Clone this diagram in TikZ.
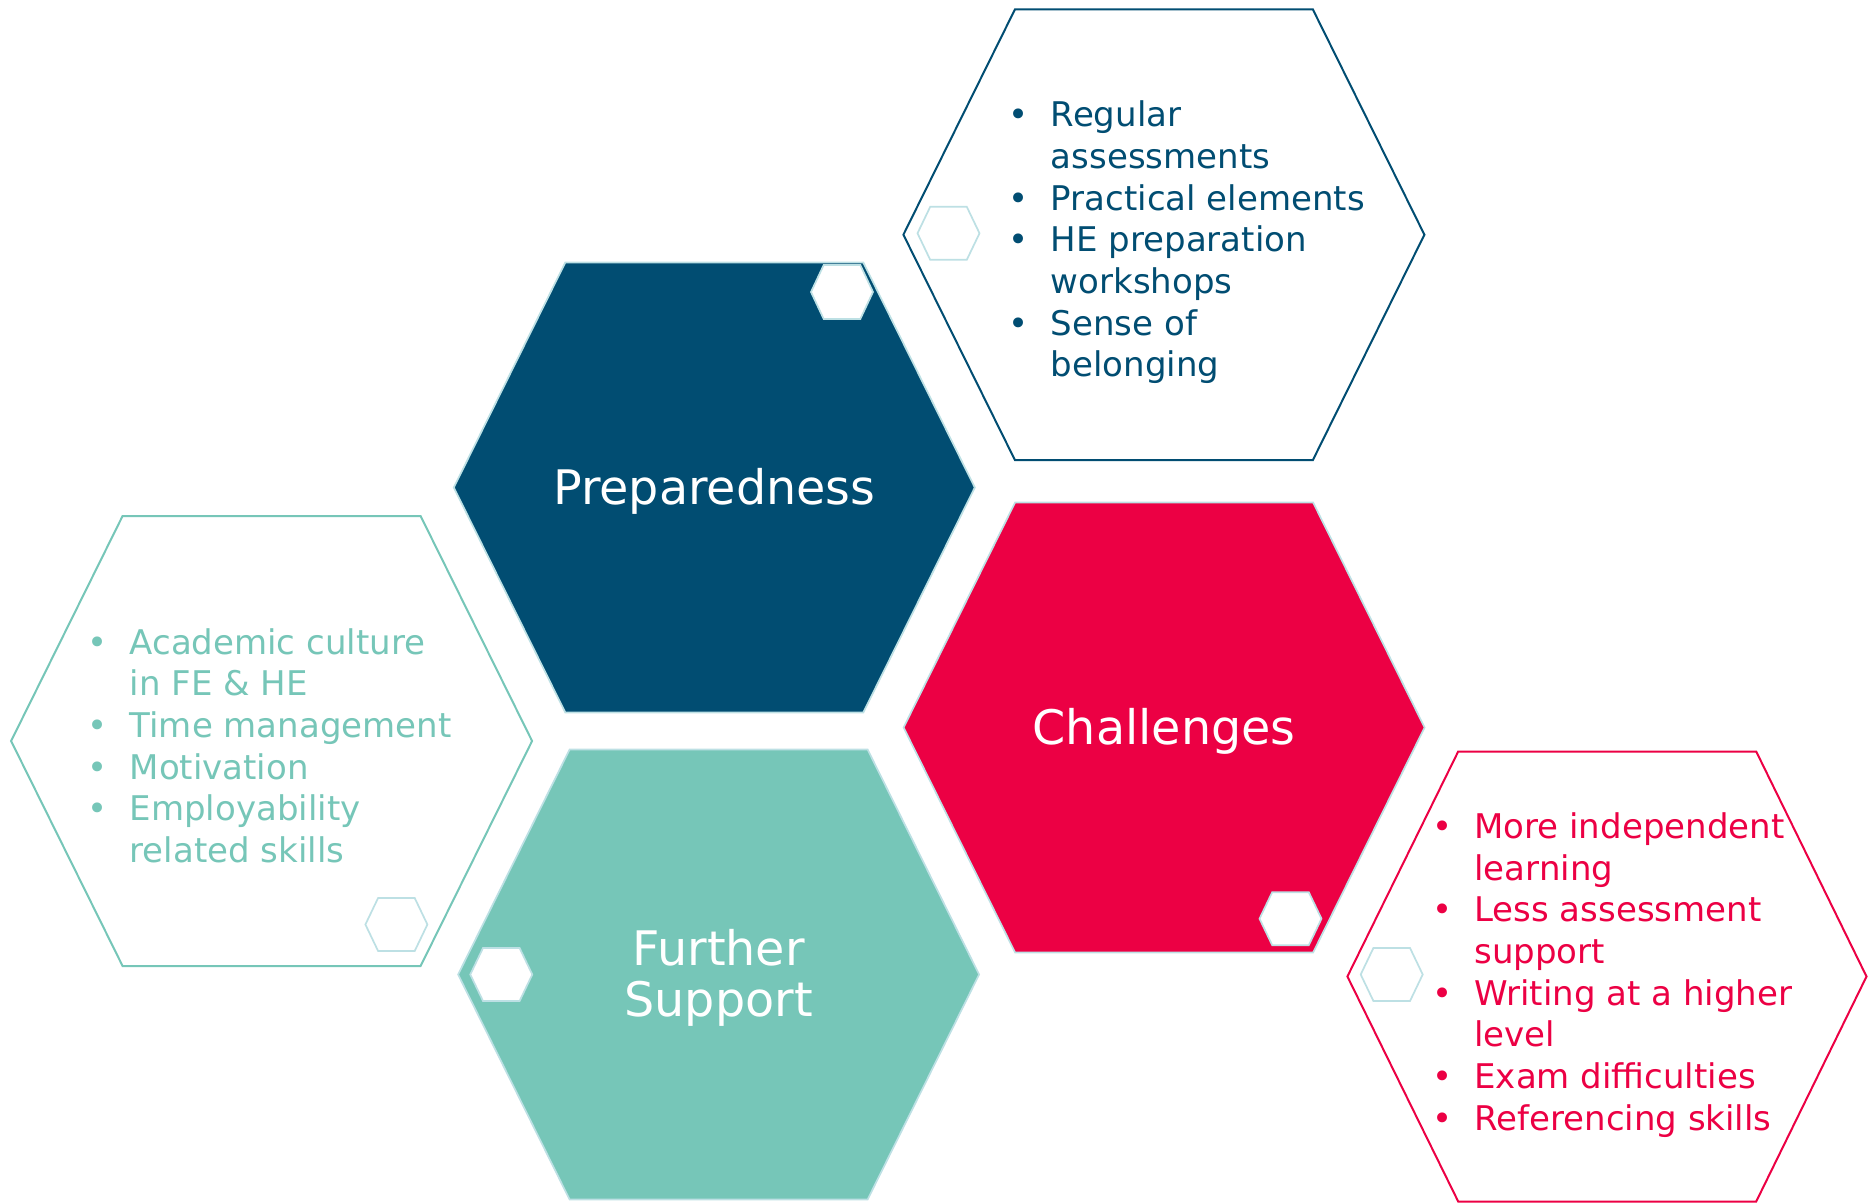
\documentclass[tikz,border=0pt]{standalone}
\usepackage{fontspec}
\setmainfont{DejaVu Sans}

\definecolor{prepblue}{RGB}{1,77,114}
\definecolor{challred}{RGB}{236,0,68}
\definecolor{suppteal}{RGB}{118,198,184}
\definecolor{hexedge}{RGB}{189,224,228}

\newcommand{\bul}{\makebox[21pt][l]{\textbullet}}

\begin{document}
\begin{tikzpicture}[x=0.5pt,y=0.5pt,yscale=-1,xscale=1,
  bighex/.style={draw=hexedge,line width=0.85pt},
  outhex/.style={line width=1pt,fill=white},
  minihex/.style={draw=hexedge,line width=0.85pt,fill=white},
  hexlabel/.style={text=white,inner sep=0pt,anchor=base,font=\fontsize{23.8}{25.85}\selectfont},
  listtext/.style={inner sep=0pt,anchor=base west,font=\fontsize{17}{20.85}\selectfont}]
%set diagram left start at 0, and has height of 1203
\path[use as bounding box] (0,0) rectangle (1868,1203);

%Shape: Hexagon Preparedness
\draw [bighex,fill=prepblue] (565.3,262.5) -- (863.3,262.5) -- (974.8,487.5) -- (863.3,712.5) -- (565.3,712.5) -- (453.8,487.5) -- cycle ;
%Shape: Hexagon Challenges
\draw [bighex,fill=challred] (1015.1,502.5) -- (1313.1,502.5) -- (1424.6,727.5) -- (1313.1,952.5) -- (1015.1,952.5) -- (903.6,727.5) -- cycle ;
%Shape: Hexagon Further Support
\draw [bighex,fill=suppteal] (569.6,749.5) -- (867.6,749.5) -- (979.1,974.5) -- (867.6,1199.5) -- (569.6,1199.5) -- (458.1,974.5) -- cycle ;

%Shape: Hexagon outline top
\draw [outhex,draw=prepblue] (1014.9,9.5) -- (1312.9,9.5) -- (1424.4,234.7) -- (1312.9,460) -- (1014.9,460) -- (903.4,234.7) -- cycle ;
%Shape: Hexagon outline left
\draw [outhex,draw=suppteal] (122.6,516) -- (420.6,516) -- (532.1,741) -- (420.6,966) -- (122.6,966) -- (11.1,741) -- cycle ;
%Shape: Hexagon outline right
\draw [outhex,draw=challred] (1458.2,751.5) -- (1756.2,751.5) -- (1866.5,976.5) -- (1756.2,1201.5) -- (1458.2,1201.5) -- (1347.4,976.5) -- cycle ;

%Small hexagons
\draw [minihex] (930.2,206.8) -- (966.8,206.8) -- (979.5,233.3) -- (966.8,259.8) -- (930.2,259.8) -- (917.5,233.3) -- cycle ;
\draw [minihex] (823.7,265) -- (860.3,265) -- (873,292) -- (860.3,319) -- (823.7,319) -- (811,292) -- cycle ;
\draw [minihex] (378.1,898) -- (414.7,898) -- (427.4,924.5) -- (414.7,951) -- (378.1,951) -- (365.4,924.5) -- cycle ;
\draw [minihex] (483,948) -- (519.6,948) -- (532.3,974.5) -- (519.6,1001) -- (483,1001) -- (470.3,974.5) -- cycle ;
\draw [minihex] (1272.2,892.2) -- (1308.8,892.2) -- (1321.5,918.7) -- (1308.8,945.2) -- (1272.2,945.2) -- (1259.5,918.7) -- cycle ;
\draw [minihex] (1373.4,948) -- (1410,948) -- (1422.7,974.5) -- (1410,1001) -- (1373.4,1001) -- (1360.7,974.5) -- cycle ;

% Text Node
\node (prepLabel) [hexlabel] at (714.3,504) {Preparedness};
% Text Node
\node (challLabel) [hexlabel] at (1164.1,744) {Challenges};
% Text Node
\node (suppLabel) [hexlabel] at (718.6,965) {\begin{tabular}[t]{@{}c@{}}Further\\Support\end{tabular}};

% Text Node
\node (prepList) [listtext,text=prepblue] at (1008.5,126.7) {\begin{tabular}[t]{@{}l@{}l@{}}
\bul & Regular\\ & assessments\\
\bul & Practical elements\\
\bul & HE preparation\\ & workshops\\
\bul & Sense of\\ & belonging
\end{tabular}};
% Text Node
\node (suppList) [listtext,text=suppteal] at (87.3,654) {\begin{tabular}[t]{@{}l@{}l@{}}
\bul & Academic culture\\ & in FE \& HE\\
\bul & Time management\\
\bul & Motivation\\
\bul & Employability\\ & related skills
\end{tabular}};
% Text Node
\node (challList) [listtext,text=challred] at (1432,838.3) {\begin{tabular}[t]{@{}l@{}l@{}}
\bul & More independent\\ & learning\\
\bul & Less assessment\\ & support\\
\bul & Writing at a higher\\ & level\\
\bul & Exam difficulties\\
\bul & Referencing skills
\end{tabular}};

\end{tikzpicture}
\end{document}
